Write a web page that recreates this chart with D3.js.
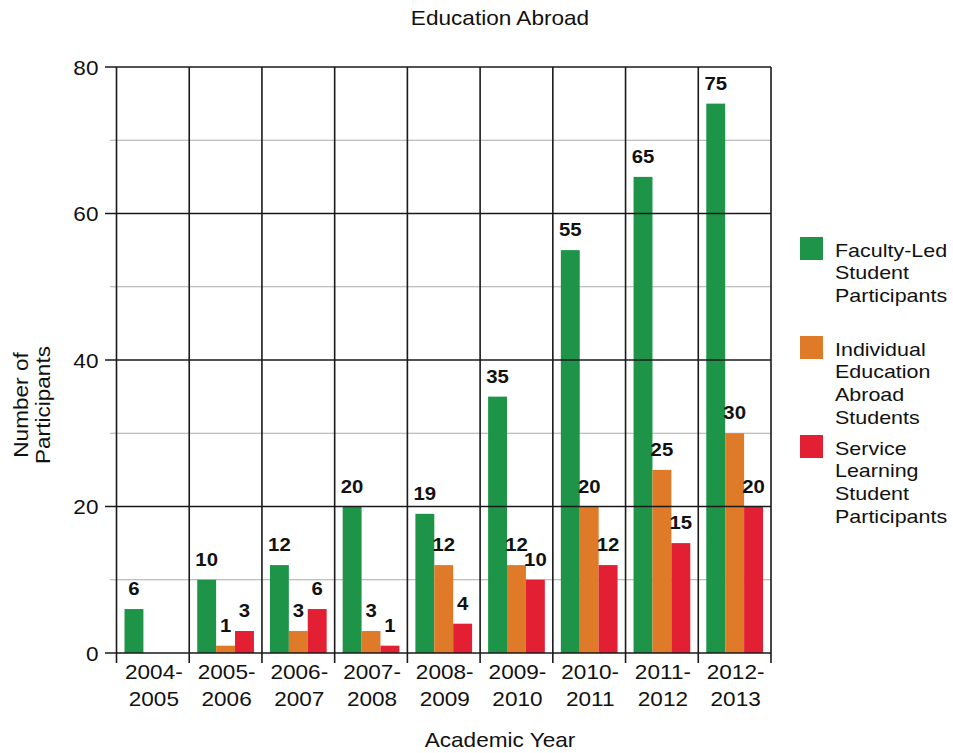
<!DOCTYPE html>
<html><head><meta charset="utf-8">
<script src="https://cdn.jsdelivr.net/npm/d3@7"></script>
<style>
body{margin:0;background:#fff;}
text{font-family:"Liberation Sans",Arial,sans-serif;fill:#111;}
</style></head>
<body><svg id="c" width="953" height="753"></svg>
<script>
const categories = [["2004-","2005"],["2005-","2006"],["2006-","2007"],["2007-","2008"],["2008-","2009"],["2009-","2010"],["2010-","2011"],["2011-","2012"],["2012-","2013"]];
const seriesNames = ["Faculty-Led Student Participants","Individual Education Abroad Students","Service Learning Student Participants"];
const legendLines = [["Faculty-Led","Student","Participants"],["Individual","Education","Abroad","Students"],["Service","Learning","Student","Participants"]];
const facultyLed = [6,10,12,20,19,35,55,65,75];
const individual = [null,1,3,3,12,12,20,25,30];
const serviceLearning = [null,3,6,1,4,10,12,15,20];
const majorTicks = [0,20,40,60,80];
const minorTicks = [10,30,50,70];
const colors = ["#1e9448","#de7a28","#e21f33"];
const SX = 1.13;

(function(){
const svg = d3.select("#c");
const pLeft = 116.5, pRight = 771, pTop = 67, pBottom = 653;
const catKeys = categories.map(c => c.join(""));
const x0 = d3.scaleBand().domain(catKeys).range([pLeft, pRight]).padding(0);
const bw = x0.bandwidth();
const x1 = d3.scaleBand().domain([0,1,2]).range([8, bw - 8]).padding(0);
const y = d3.scaleLinear().domain([0,80]).range([pBottom, pTop]);
const series = [facultyLed, individual, serviceLearning];

// minor grid
svg.append("g").selectAll("line").data(minorTicks).join("line")
  .attr("x1", 110).attr("x2", pRight).attr("y1", d => y(d)).attr("y2", d => y(d))
  .attr("stroke", "#aaa").attr("stroke-width", 1.2);

// bars
const g = svg.append("g");
catKeys.forEach((k, i) => {
  series.forEach((s, j) => {
    const v = s[i];
    if (v == null) return;
    g.append("rect").attr("x", x0(k) + x1(j)).attr("width", x1.bandwidth())
      .attr("y", y(v)).attr("height", y(0) - y(v)).attr("fill", colors[j]);
  });
});

// major grid
svg.append("g").selectAll("line").data(majorTicks).join("line")
  .attr("x1", 105).attr("x2", pRight).attr("y1", d => y(d)).attr("y2", d => y(d))
  .attr("stroke", "#1a1a1a").attr("stroke-width", 1.6);

// vertical separators
const vx = catKeys.map(k => x0(k)).concat([pRight]);
svg.append("g").selectAll("line").data(vx).join("line")
  .attr("x1", d => d).attr("x2", d => d).attr("y1", pTop).attr("y2", pBottom + 10)
  .attr("stroke", "#1a1a1a").attr("stroke-width", 1.6);

// value labels
catKeys.forEach((k, i) => {
  series.forEach((s, j) => {
    const v = s[i];
    if (v == null) return;
    svg.append("text")
      .attr("transform", `translate(${x0(k) + x1(j) + x1.bandwidth()/2},${y(v) - 14}) scale(${SX},1)`)
      .attr("text-anchor", "middle").attr("font-size", 18).attr("font-weight", "bold")
      .text(v);
  });
});

// y tick labels via axis
const ya = svg.append("g").attr("transform", `translate(${pLeft},0)`)
  .call(d3.axisLeft(y).tickValues(majorTicks).tickSize(0).tickPadding(0));
ya.select(".domain").remove();
ya.selectAll("text").attr("x", null).attr("dy", "0.36em")
  .attr("transform", `translate(-18,0) scale(${SX},1)`)
  .attr("font-size", 20).style("font-family", '"Liberation Sans",Arial,sans-serif').attr("fill", "#111");

// x labels
categories.forEach((c, i) => {
  const t = svg.append("text")
    .attr("transform", `translate(${x0(catKeys[i]) + bw/2 + 1},679) scale(${SX},1)`)
    .attr("text-anchor", "middle").attr("font-size", 20);
  t.append("tspan").attr("x", 0).attr("y", 0).text(c[0]);
  t.append("tspan").attr("x", 0).attr("y", 27).text(c[1]);
});

// titles
svg.append("text").attr("transform", `translate(500,25) scale(${SX},1)`)
  .attr("text-anchor", "middle").attr("font-size", 20).text("Education Abroad");
svg.append("text").attr("transform", `translate(500,747) scale(${SX},1)`)
  .attr("text-anchor", "middle").attr("font-size", 20).text("Academic Year");
const yt = svg.append("text").attr("transform", `translate(28,405) rotate(-90) scale(${SX},1)`)
  .attr("text-anchor", "middle").attr("font-size", 20);
yt.append("tspan").attr("x", 0).attr("y", 0).text("Number of");
yt.append("tspan").attr("x", 0).attr("y", 22).text("Participants");

// legend
const lg = svg.append("g");
const itemTops = [237, 336, 435];
legendLines.forEach((lines, j) => {
  lg.append("rect").attr("x", 800).attr("y", itemTops[j]).attr("width", 23).attr("height", 23).attr("fill", colors[j]);
  const t = lg.append("text").attr("transform", `translate(835,${itemTops[j] + 19.5}) scale(${SX},1)`)
    .attr("font-size", 19);
  lines.forEach((ln, m) => t.append("tspan").attr("x", 0).attr("y", m * 22.7).text(ln));
});
})();
</script></body></html>
